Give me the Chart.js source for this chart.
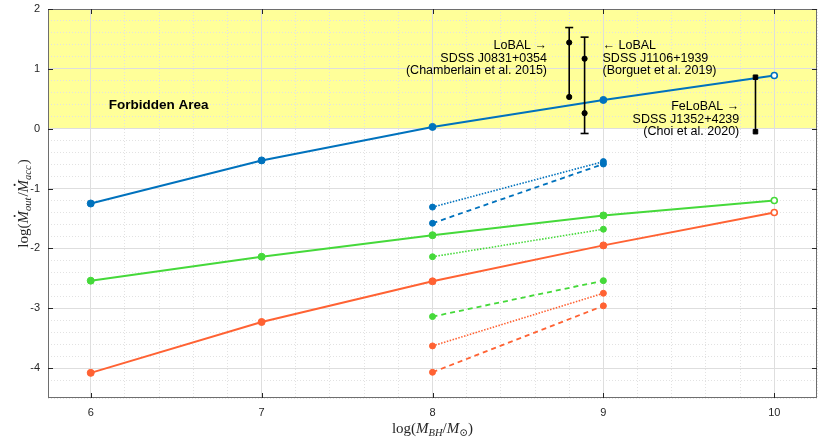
<!DOCTYPE html>
<html>
<head>
<meta charset="utf-8">
<script src="https://cdn.jsdelivr.net/npm/chart.js@4/dist/chart.umd.min.js"></script>
<style>
html, body { margin: 0; padding: 0; background: #fff; }
#wrap { width: 830px; height: 440px; }
</style>
</head>
<body>
<div id="wrap"><canvas id="outflow-chart"></canvas></div>
<script>
// black hole mass grid and model curves
const massTicks = [6, 7, 8, 9, 10];
const rateTicks = [-4, -3, -2, -1, 0, 1, 2];
const logMass = [6, 7, 8, 9, 10];
const blueSolid = [-1.25, -0.53, 0.03, 0.48, 0.89];
const greenSolid = [-2.54, -2.14, -1.78, -1.45, -1.20];
const orangeSolid = [-4.08, -3.23, -2.55, -1.95, -1.40];

const subMass = [8, 9];
const blueDotted = [-1.31, -0.55];
const blueDashed = [-1.58, -0.59];
const greenDotted = [-2.14, -1.68];
const greenDashed = [-3.14, -2.54];
const orangeDotted = [-3.63, -2.75];
const orangeDashed = [-4.07, -2.96];

// observed BAL quasars
const obsMass = [8.80, 8.89, 9.89];
const obsPoints = [[1.44, 0.53], [1.17, 0.26], [0.86, -0.05]];
const obsRange = [[0.53, 1.69], [-0.08, 1.53], [-0.05, 0.86]];
const obsCaps = [[1.69], [-0.08, 1.53], []];
const obsLabels = [
    ['LoBAL \u2192', 'SDSS J0831+0354', '(Chamberlain et al. 2015)'],
    ['\u2190 LoBAL', 'SDSS J1106+1939', '(Borguet et al. 2019)'],
    ['FeLoBAL \u2192', 'SDSS J1352+4239', '(Choi et al. 2020)']
];
const forbiddenLabel = 'Forbidden Area';

const BLUE = '#0072bd';
const GREEN = '#45d93a';
const ORANGE = '#ff6233';

function pts(xs, ys) {
    return xs.map((x, i) => ({ x: x, y: ys[i] }));
}

function curve(xs, ys, color, style) {
    const n = xs.length;
    const ds = {
        data: pts(xs, ys),
        showLine: true,
        borderColor: color,
        backgroundColor: color,
        pointBackgroundColor: color,
        pointBorderColor: color,
        pointRadius: 3.5,
        pointBorderWidth: 1,
        borderWidth: 2
    };
    if (style === 'solid') {
        // last point (log M = 10) is an open circle
        ds.pointBackgroundColor = xs.map((x, i) => i === n - 1 ? '#ffffff' : color);
        ds.pointBorderWidth = xs.map((x, i) => i === n - 1 ? 1.6 : 1);
        ds.pointRadius = xs.map((x, i) => i === n - 1 ? 3 : 3.5);
    } else if (style === 'dotted') {
        ds.borderDash = [1.5, 1.5];
        ds.borderWidth = 1.6;
        ds.pointRadius = 3;
    } else {
        ds.borderDash = [5, 4];
        ds.borderWidth = 1.8;
        ds.pointRadius = 3;
    }
    return ds;
}

const datasets = [];

// error bars go first so they end up on top
obsMass.forEach((m, i) => {
    datasets.push({
        data: pts([m, m], obsRange[i]),
        showLine: true,
        borderColor: '#000',
        borderWidth: 1.6,
        pointRadius: 0
    });
    datasets.push({
        data: pts(obsCaps[i].map(() => m), obsCaps[i]),
        showLine: false,
        pointStyle: 'line',
        pointRadius: 4,
        pointBorderWidth: 1.6,
        pointBorderColor: '#000'
    });
    datasets.push({
        data: pts([m, m], obsPoints[i]),
        showLine: false,
        pointStyle: i === 2 ? 'rect' : 'circle',
        pointRadius: i === 2 ? 3.2 : 2.6,
        pointBackgroundColor: '#000',
        pointBorderColor: '#000',
        pointBorderWidth: 1
    });
});

datasets.push(curve(logMass, blueSolid, BLUE, 'solid'));
datasets.push(curve(logMass, greenSolid, GREEN, 'solid'));
datasets.push(curve(logMass, orangeSolid, ORANGE, 'solid'));
datasets.push(curve(subMass, blueDotted, BLUE, 'dotted'));
datasets.push(curve(subMass, blueDashed, BLUE, 'dashed'));
datasets.push(curve(subMass, greenDotted, GREEN, 'dotted'));
datasets.push(curve(subMass, greenDashed, GREEN, 'dashed'));
datasets.push(curve(subMass, orangeDotted, ORANGE, 'dotted'));
datasets.push(curve(subMass, orangeDashed, ORANGE, 'dashed'));

// yellow "forbidden" band, drawn before the grid
const bandPlugin = {
    id: 'band',
    beforeDraw(chart) {
        const { ctx, chartArea: a, scales } = chart;
        const yTop = scales.y.getPixelForValue(2);
        const yZero = scales.y.getPixelForValue(0);
        ctx.save();
        ctx.fillStyle = '#ffffff';
        ctx.fillRect(a.left, a.top, a.right - a.left, a.bottom - a.top);
        ctx.fillStyle = '#ffff99';
        ctx.fillRect(a.left, yTop, a.right - a.left, yZero - yTop);
        ctx.restore();
    }
};

// draw math-style text made of roman / italic / subscript pieces
function drawMath(ctx, parts, cx, cy, size) {
    const fam = '"Liberation Serif", "DejaVu Serif", serif';
    const fontOf = p => {
        const sz = p.sub ? size * 0.7 : size;
        return (p.it ? 'italic ' : '') + sz + 'px ' + fam;
    };
    let total = 0;
    parts.forEach(p => {
        ctx.font = fontOf(p);
        p.w = ctx.measureText(p.t).width + (p.gap || 0);
        total += p.w;
    });
    let x = cx - total / 2;
    ctx.textBaseline = 'alphabetic';
    ctx.textAlign = 'left';
    const base = cy + size * 0.3;
    parts.forEach(p => {
        ctx.font = fontOf(p);
        const y = p.sub ? base + size * 0.22 : base;
        ctx.fillText(p.t, x, y);
        if (p.dot) {
            ctx.beginPath();
            ctx.arc(x + p.w * 0.6, base - size * 0.86, size * 0.07, 0, Math.PI * 2);
            ctx.fill();
        }
        x += p.w;
    });
}

const labelPlugin = {
    id: 'labels',
    afterDatasetsDraw(chart) {
        const { ctx, scales } = chart;
        const xs = scales.x, ys = scales.y;
        ctx.save();
        ctx.fillStyle = '#000';
        ctx.textBaseline = 'middle';
        ctx.font = 'bold 13.5px "Liberation Sans", Arial, sans-serif';
        ctx.textAlign = 'left';
        ctx.fillText(forbiddenLabel, xs.getPixelForValue(6.105), ys.getPixelForValue(0.39));

        ctx.font = '12.5px "Liberation Sans", Arial, sans-serif';
        const anchors = [
            { x: 8.67, y: 1.39, align: 'right' },
            { x: 8.995, y: 1.39, align: 'left' },
            { x: 9.795, y: 0.37, align: 'right' }
        ];
        obsLabels.forEach((lines, i) => {
            const a = anchors[i];
            ctx.textAlign = a.align;
            const px = xs.getPixelForValue(a.x);
            const py = ys.getPixelForValue(a.y);
            lines.forEach((t, k) => ctx.fillText(t, px, py + k * 12.6));
        });
        ctx.restore();
    },
    afterDraw(chart) {
        const { ctx, chartArea: a, scales } = chart;
        ctx.save();
        // axes box and inward ticks
        ctx.strokeStyle = '#6e6e6e';
        ctx.lineWidth = 1;
        ctx.strokeRect(a.left + 0.5, a.top + 0.5, a.right - a.left - 1, a.bottom - a.top - 1);
        ctx.strokeStyle = '#262626';
        ctx.beginPath();
        massTicks.forEach(v => {
            const px = Math.round(scales.x.getPixelForValue(v)) + 0.5;
            ctx.moveTo(px, a.bottom); ctx.lineTo(px, a.bottom - 5);
            ctx.moveTo(px, a.top); ctx.lineTo(px, a.top + 5);
        });
        rateTicks.forEach(v => {
            const py = Math.round(scales.y.getPixelForValue(v)) + 0.5;
            ctx.moveTo(a.left, py); ctx.lineTo(a.left + 5, py);
            ctx.moveTo(a.right, py); ctx.lineTo(a.right - 5, py);
        });
        ctx.stroke();

        // axis titles
        ctx.fillStyle = '#262626';
        drawMath(ctx, [
            { t: 'log(' }, { t: 'M', it: true }, { t: 'BH', it: true, sub: true },
            { t: '/' }, { t: 'M', it: true }, { t: '\u2299', sub: true }, { t: ')' }
        ], (a.left + a.right) / 2, 428, 15);

        ctx.translate(23, (a.top + a.bottom) / 2);
        ctx.rotate(-Math.PI / 2);
        drawMath(ctx, [
            { t: 'log(' }, { t: 'M', it: true, dot: true }, { t: 'out', it: true, sub: true, gap: 1 },
            { t: '/' }, { t: 'M', it: true, dot: true }, { t: 'acc', it: true, sub: true, gap: 1 }, { t: ')' }
        ], 0, 0, 15);
        ctx.restore();
    }
};

const tickFont = { family: '"Liberation Sans", Arial, sans-serif', size: 11 };

function noPadX(s) { s.height = 42; s.paddingLeft = 0; s.paddingRight = 0; }
function noPadY(s) { s.width = 48; s.paddingTop = 0; s.paddingBottom = 0; }

new Chart(document.getElementById('outflow-chart'), {
    type: 'scatter',
    data: { datasets: datasets },
    options: {
        responsive: true,
        maintainAspectRatio: false,
        animation: false,
        layout: { padding: { top: 9, right: 13, left: 0, bottom: 0 } },
        plugins: {
            legend: { display: false },
            tooltip: { enabled: false }
        },
        scales: {
            x2: {
                type: 'linear', min: 5.75, max: 10.25, position: 'bottom',
                ticks: { display: false, stepSize: 0.2 },
                grid: { color: '#e2e2e2', lineWidth: 1, drawTicks: false },
                border: { display: false, dash: [1, 2] },
                afterFit: s => { s.height = 0; s.paddingLeft = 0; s.paddingRight = 0; }
            },
            y2: {
                type: 'linear', min: -4.5, max: 2, position: 'left',
                ticks: { display: false, stepSize: 0.2 },
                grid: { color: '#e2e2e2', lineWidth: 1, drawTicks: false },
                border: { display: false, dash: [1, 2] },
                afterFit: s => { s.width = 0; s.paddingTop = 0; s.paddingBottom = 0; }
            },
            x: {
                type: 'linear', min: 5.75, max: 10.25, position: 'bottom',
                afterBuildTicks: s => { s.ticks = massTicks.map(v => ({ value: v })); },
                ticks: { font: tickFont, color: '#262626', padding: 8 },
                grid: { color: '#dedede', lineWidth: 1, drawTicks: false },
                border: { display: false },
                afterFit: noPadX
            },
            y: {
                type: 'linear', min: -4.5, max: 2, position: 'left',
                afterBuildTicks: s => { s.ticks = rateTicks.map(v => ({ value: v })); },
                ticks: { font: tickFont, color: '#262626', padding: 8 },
                grid: { color: '#dedede', lineWidth: 1, drawTicks: false },
                border: { display: false },
                afterFit: noPadY
            }
        }
    },
    plugins: [bandPlugin, labelPlugin]
});
</script>
</body>
</html>
